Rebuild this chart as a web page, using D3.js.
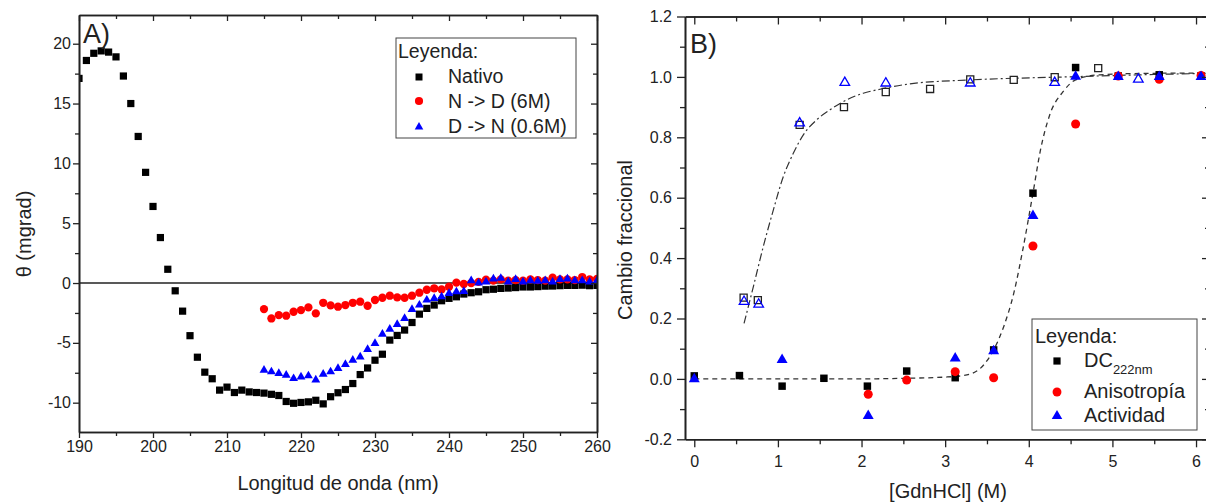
<!DOCTYPE html>
<html>
<head>
<meta charset="utf-8">
<script src="https://cdn.jsdelivr.net/npm/d3@7"></script>
<style>
body{margin:0;background:#fff;overflow:hidden;}
svg{display:block;font-family:"Liberation Sans",Arial,sans-serif;}
</style>
</head>
<body>
<div class="chart"></div>
<script>
// ---- panel A data (CD spectra) ----
const lambda = [190,191,192,193,194,195,196,197,198,199,200,201,202,203,204,205,206,207,208,209,
  210,211,212,213,214,215,216,217,218,219,220,221,222,223,224,225,226,227,228,229,
  230,231,232,233,234,235,236,237,238,239,240,241,242,243,244,245,246,247,248,249,
  250,251,252,253,254,255,256,257,258,259,260];
const nativo = [17.1,18.6,19.2,19.4,19.3,18.9,17.3,15.0,12.25,9.25,6.4,3.8,1.15,-0.65,-2.35,-4.4,-6.2,-7.45,-8.0,-8.95,
  -8.7,-9.15,-8.95,-9.1,-9.15,-9.2,-9.3,-9.4,-9.9,-10.05,-9.98,-9.93,-9.8,-10.1,-9.5,-9.17,-8.9,-8.4,-7.65,-7.1,
  -6.45,-5.95,-4.77,-4.38,-3.93,-3.3,-2.6,-2.12,-1.84,-1.48,-1.28,-1.15,-0.92,-0.81,-0.73,-0.56,-0.52,-0.45,-0.42,-0.38,
  -0.33,-0.33,-0.3,-0.26,-0.25,-0.22,-0.2,-0.2,-0.18,-0.22,-0.2];
// N -> D and D -> N start at 215 nm
const lambdaShort = lambda.slice(25);
const nToD = [-2.18,-2.96,-2.68,-2.73,-2.4,-2.26,-2.04,-2.54,-1.65,-1.87,
  -1.98,-1.84,-1.65,-1.56,-1.9,-1.42,-1.23,-1.06,-1.2,-1.23,
  -1.06,-0.81,-0.56,-0.44,-0.53,-0.31,0.03,-0.08,0.0,0.1,
  0.28,0.2,0.3,0.2,0.25,0.2,0.3,0.25,0.2,0.45,
  0.3,0.3,0.25,0.5,0.3,0.35];
const dToN = [-7.28,-7.42,-7.56,-7.7,-7.98,-7.84,-7.75,-8.1,-7.61,-7.42,
  -7.14,-6.8,-6.44,-6.17,-5.55,-5.05,-4.27,-3.85,-3.46,-2.96,
  -2.2,-1.84,-1.42,-1.28,-1.15,-0.86,-0.73,-0.7,0.2,0.0,
  0.1,0.35,0.4,0.1,0.3,0.1,0.2,0.15,0.2,0.1,
  0.3,0.35,0.2,0.2,0.1,0.2];
const ticksAx = [190,200,210,220,230,240,250,260];
const ticksAy = [-10,-5,0,5,10,15,20];

// ---- panel B data (denaturation curves) ----
const dcX = [0,0.54,1.05,1.55,2.07,2.54,3.12,3.58,4.05,4.56,5.07,5.56,6.06];
const dcY = [0.01,0.011,-0.024,0.002,-0.024,0.026,0.004,0.096,0.615,1.031,1.003,1.007,1.003];
const anisoX = [2.08,2.54,3.12,3.58,4.05,4.56,5.07,5.56,6.06];
const anisoY = [-0.051,-0.004,0.024,0.004,0.44,0.844,1.003,0.992,1.005];
const actX = [0,1.05,2.08,3.12,3.58,4.05,4.56,5.07,5.56,6.06];
const actY = [-0.001,0.063,-0.122,0.068,0.092,0.54,1.001,1.0,1.0,1.0];
// refolding (open symbols)
const refDcX = [0.59,0.76,1.26,1.79,2.29,2.82,3.30,3.82,4.31,4.83];
const refDcY = [0.269,0.261,0.841,0.9,0.95,0.96,0.992,0.99,0.999,1.029];
const refActX = [0.595,0.77,1.26,1.80,2.29,3.30,4.31,5.31];
const refActY = [0.256,0.247,0.847,0.981,0.979,0.979,0.981,0.992];
// fitted curves
const fitUnfX = [0,1,2,2.5,3.0,3.26,3.46,3.58,3.70,3.82,3.93,4.05,4.14,4.25,4.41,4.56,4.85,5.5,6.2];
const fitUnfY = [0,0,0,0.002,0.006,0.013,0.046,0.096,0.173,0.283,0.43,0.615,0.758,0.874,0.951,0.99,1.007,1.012,1.013];
const fitRefX = [0.595,0.706,0.825,0.945,1.065,1.184,1.304,1.464,1.623,1.823,2.02,2.22,2.58,3.3,4.45,5.5,6.2];
const fitRefY = [0.184,0.305,0.438,0.559,0.67,0.747,0.808,0.858,0.891,0.924,0.946,0.959,0.977,0.99,1.0,1.008,1.012];
const ticksBx = [0,1,2,3,4,5,6];
const ticksBy = [-0.2,0,0.2,0.4,0.6,0.8,1.0,1.2];

const width = 1206, height = 504;
const svg = d3.select('.chart').append('svg')
  .attr('width', width).attr('height', height);

function frame(g, x, y, o) {
  const [xl, xr] = x.range(), [yb, yt] = y.range();
  const none = () => '';
  const add = (axis, tx, ty) => g.append('g').attr('class', 'ax')
    .attr('transform', `translate(${tx},${ty})`).call(axis);
  // bottom
  add(d3.axisBottom(x).tickValues(o.xMajor).tickFormat(o.xFmt).tickSizeInner(o.tick).tickSizeOuter(0).tickPadding(o.xPad), 0, yb);
  add(d3.axisBottom(x).tickValues(o.xMinor).tickFormat(none).tickSizeInner(o.minor).tickSizeOuter(0), 0, yb);
  // left
  add(d3.axisLeft(y).tickValues(o.yMajor).tickFormat(o.yFmt).tickSizeInner(o.tick).tickSizeOuter(0).tickPadding(o.yPad), xl, 0);
  add(d3.axisLeft(y).tickValues(o.yMinor).tickFormat(none).tickSizeInner(o.minor).tickSizeOuter(0), xl, 0);
  // top (inward)
  add(d3.axisTop(x).tickValues(o.xMajor).tickFormat(none).tickSizeInner(-o.tick).tickSizeOuter(0), 0, yt);
  add(d3.axisTop(x).tickValues(o.xMinor).tickFormat(none).tickSizeInner(-o.minor).tickSizeOuter(0), 0, yt);
  // right (inward)
  add(d3.axisRight(y).tickValues(o.yMajor).tickFormat(none).tickSizeInner(-o.tick).tickSizeOuter(0), xr, 0);
  add(d3.axisRight(y).tickValues(o.yMinor).tickFormat(none).tickSizeInner(-o.minor).tickSizeOuter(0), xr, 0);
}

function points(g, xs, ys, x, y, type, size, fill, stroke) {
  g.append('g').selectAll('path').data(xs).join('path')
    .attr('transform', (d, i) => `translate(${x(d)},${y(ys[i])})`)
    .attr('d', d3.symbol().type(type).size(size))
    .attr('fill', fill)
    .attr('stroke', stroke || 'none')
    .attr('stroke-width', 1.3);
}

// ================= Panel A =================
const xA = d3.scaleLinear().domain([190, 260]).range([79, 597]);
const yA = d3.scaleLinear().domain([-12.45, 22.4]).range([432, 15]);
const gA = svg.append('g');

svg.append('clipPath').attr('id','clipA').append('rect')
  .attr('x', 79).attr('y', 15).attr('width', 518).attr('height', 417);

gA.append('line')
  .attr('x1', xA(190)).attr('x2', xA(260))
  .attr('y1', yA(0)).attr('y2', yA(0))
  .attr('stroke', '#222').attr('stroke-width', 1.4);

const dA = gA.append('g').attr('clip-path', 'url(#clipA)');
points(dA, lambda, nativo, xA, yA, d3.symbolSquare, 52, '#000');
points(dA, lambdaShort, nToD, xA, yA, d3.symbolCircle, 54, '#ff0000');
points(dA, lambdaShort, dToN, xA, yA, d3.symbolTriangle, 34, '#0000ff');

frame(gA, xA, yA, {
  xMajor: ticksAx, xMinor: [195,205,215,225,235,245,255],
  yMajor: ticksAy, yMinor: [-7.5,-2.5,2.5,7.5,12.5,17.5],
  xFmt: d => String(d), yFmt: d => String(d),
  tick: 6, minor: 4, xPad: 3, yPad: 2
});

gA.append('text').attr('x', 83).attr('y', 43).attr('font-size', 27).text('A)');

gA.append('text').attr('x', 338).attr('y', 490).attr('text-anchor','middle')
  .attr('font-size', 20).text('Longitud de onda (nm)');
gA.append('text').attr('transform', 'translate(31,234) rotate(-90)').attr('text-anchor','middle')
  .attr('font-size', 20).text('θ (mgrad)');

// legend A
const lgA = gA.append('g');
lgA.append('rect').attr('x', 396).attr('y', 38).attr('width', 180).attr('height', 100)
  .attr('fill', '#fff').attr('stroke', '#444').attr('stroke-width', 1);
lgA.append('text').attr('x', 398).attr('y', 58).attr('font-size', 19.5).text('Leyenda:');
const legA = [
  {t: 'Nativo', sym: d3.symbolSquare, size: 49, c: '#000', cy: 77, by: 83},
  {t: 'N -> D (6M)', sym: d3.symbolCircle, size: 52, c: '#ff0000', cy: 101, by: 108},
  {t: 'D -> N (0.6M)', sym: d3.symbolTriangle, size: 32, c: '#0000ff', cy: 127, by: 133}
];
legA.forEach(e => {
  lgA.append('path').attr('transform', `translate(419,${e.cy})`)
    .attr('d', d3.symbol().type(e.sym).size(e.size)).attr('fill', e.c);
  lgA.append('text').attr('x', 448).attr('y', e.by).attr('font-size', 19.5).text(e.t);
});

// ================= Panel B =================
const xB = d3.scaleLinear().domain([-0.111, 6.167]).range([685, 1210]);
const yB = d3.scaleLinear().domain([-0.2, 1.2]).range([439.3, 16.5]);
const gB = svg.append('g');

svg.append('clipPath').attr('id','clipB').append('rect')
  .attr('x', 685).attr('y', 16.5).attr('width', 525).attr('height', 423);

const line = d3.line().x(d => xB(d[0])).y(d => yB(d[1])).curve(d3.curveMonotoneX);
const fits = gB.append('g').attr('clip-path', 'url(#clipB)');
fits.append('path').datum(fitUnfX.map((v, i) => [v, fitUnfY[i]]))
  .attr('d', line).attr('fill', 'none').attr('stroke', '#333')
  .attr('stroke-width', 1.3).attr('stroke-dasharray', '5,4');
fits.append('path').datum(fitRefX.map((v, i) => [v, fitRefY[i]]))
  .attr('d', line).attr('fill', 'none').attr('stroke', '#333')
  .attr('stroke-width', 1.2).attr('stroke-dasharray', '8,3,2,3');

points(gB, refDcX, refDcY, xB, yB, d3.symbolSquare, 50, '#fff', '#222');
points(gB, refActX, refActY, xB, yB, d3.symbolTriangle, 40, 'none', '#0000ff');
points(gB, dcX, dcY, xB, yB, d3.symbolSquare, 56, '#000');
points(gB, anisoX, anisoY, xB, yB, d3.symbolCircle, 64, '#ff0000');
points(gB, actX, actY, xB, yB, d3.symbolTriangle, 52, '#0000ff');

frame(gB, xB, yB, {
  xMajor: ticksBx, xMinor: [0.5,1.5,2.5,3.5,4.5,5.5],
  yMajor: ticksBy, yMinor: [-0.1,0.1,0.3,0.5,0.7,0.9,1.1],
  xFmt: d => String(d), yFmt: d => d.toFixed(1),
  tick: 8, minor: 5, xPad: 8, yPad: 5
});

gB.append('text').attr('x', 690).attr('y', 53).attr('font-size', 27).text('B)');

gB.append('text').attr('x', 948).attr('y', 498).attr('text-anchor','middle')
  .attr('font-size', 20).text('[GdnHCl] (M)');
gB.append('text').attr('transform', 'translate(632,240) rotate(-90)').attr('text-anchor','middle')
  .attr('font-size', 20).text('Cambio fraccional');

// legend B
const lgB = gB.append('g');
lgB.append('rect').attr('x', 1032).attr('y', 319).attr('width', 165).attr('height', 111)
  .attr('fill', '#fff').attr('stroke', '#444').attr('stroke-width', 1);
lgB.append('text').attr('x', 1035).attr('y', 343).attr('font-size', 20).text('Leyenda:');
const dcT = lgB.append('text').attr('x', 1084).attr('y', 367).attr('font-size', 20);
dcT.append('tspan').text('DC');
dcT.append('tspan').attr('font-size', 13).attr('dy', 7).text('222nm');
const legB = [
  {t: null, sym: d3.symbolSquare, size: 52, c: '#000', cy: 361},
  {t: 'Anisotropía', sym: d3.symbolCircle, size: 62, c: '#ff0000', cy: 392, by: 398},
  {t: 'Actividad', sym: d3.symbolTriangle, size: 48, c: '#0000ff', cy: 416, by: 422}
];
legB.forEach(e => {
  lgB.append('path').attr('transform', `translate(1057,${e.cy})`)
    .attr('d', d3.symbol().type(e.sym).size(e.size)).attr('fill', e.c);
  if (e.t) lgB.append('text').attr('x', 1084).attr('y', e.by).attr('font-size', 20).text(e.t);
});

// axis styling
svg.selectAll('.ax path.domain').attr('stroke', '#222').attr('stroke-width', 1.6);
svg.selectAll('.ax .tick line').attr('stroke', '#222').attr('stroke-width', 1.3);
svg.selectAll('.ax text').attr('font-size', 16)
  .attr('font-family', '"Liberation Sans",Arial,sans-serif');
svg.selectAll('text').attr('fill', '#222');
</script>
</body>
</html>
